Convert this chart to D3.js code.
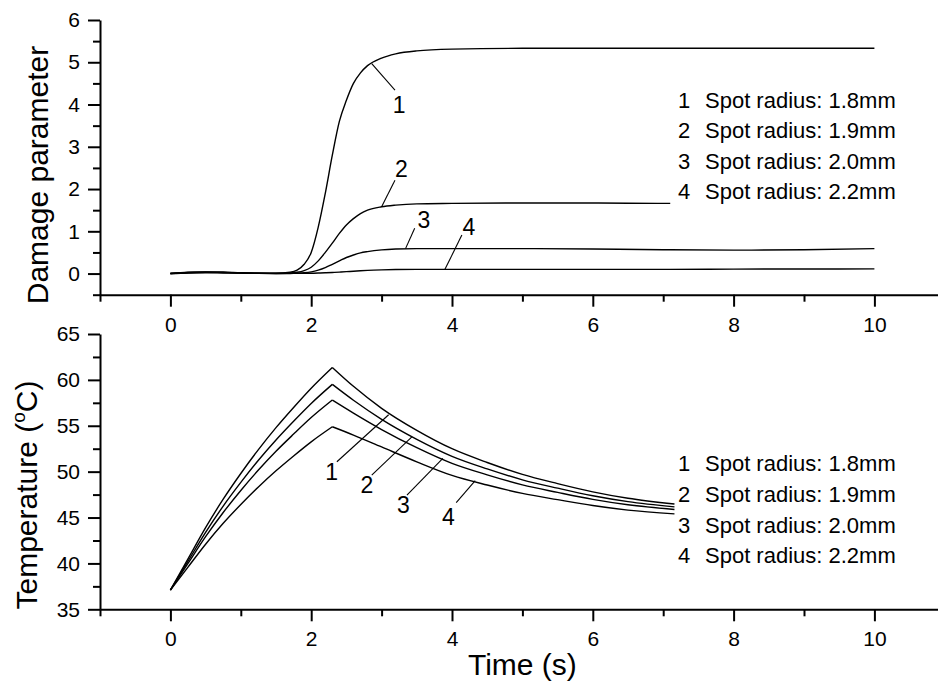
<!DOCTYPE html>
<html>
<head>
<meta charset="utf-8">
<script src="https://cdn.jsdelivr.net/npm/d3@7"></script>
<style>
  body { margin: 0; background: #fff; }
  svg { display: block; font-family: "Liberation Sans", Arial, Helvetica, sans-serif; }
</style>
</head>
<body>
<svg id="chart" width="938" height="683"></svg>
<script>
// ---- Data -------------------------------------------------------------
const seriesIds = ["1", "2", "3", "4"];
const legendLabels = [
  "Spot radius: 1.8mm",
  "Spot radius: 1.9mm",
  "Spot radius: 2.0mm",
  "Spot radius: 2.2mm"
];

// Damage parameter vs time (s)
const damageTime = [0, 0.25, 0.5, 0.75, 1, 1.25, 1.5, 1.7, 1.8, 1.9, 2, 2.1, 2.2, 2.3, 2.4, 2.5,
                    2.6, 2.7, 2.8, 3, 3.2, 3.5, 4, 5, 6, 7, 7.1, 8, 9, 10];
const damage18 = [0, 0.03, 0.04, 0.035, 0.02, 0.01, 0.008, 0.03, 0.08, 0.22, 0.5, 1.1, 1.9, 2.8, 3.6,
                  4.1, 4.5, 4.75, 4.92, 5.1, 5.2, 5.27, 5.31, 5.33, 5.33, 5.33, 5.33, 5.33, 5.33, 5.33];
const damage19 = [0, 0.025, 0.035, 0.03, 0.015, 0.008, 0.005, 0.015, 0.03, 0.07, 0.15, 0.3, 0.5, 0.72, 0.95,
                  1.15, 1.3, 1.42, 1.5, 1.58, 1.62, 1.65, 1.66, 1.67, 1.67, 1.66, 1.66, null, null, null];
const damage20 = [0, 0.02, 0.03, 0.025, 0.012, 0.006, 0.003, 0.006, 0.012, 0.02, 0.04, 0.08, 0.14, 0.22, 0.3,
                  0.38, 0.44, 0.49, 0.52, 0.56, 0.58, 0.59, 0.59, 0.59, 0.58, 0.565, 0.563, 0.555, 0.565, 0.59];
const damage22 = [0, 0.015, 0.02, 0.015, 0.01, 0.005, 0.002, 0.003, 0.004, 0.006, 0.008, 0.012, 0.018, 0.026, 0.035,
                  0.045, 0.055, 0.065, 0.075, 0.088, 0.095, 0.1, 0.1, 0.1, 0.1, 0.1, 0.1, 0.105, 0.108, 0.11];

// Temperature (°C) vs time (s)
const tempTime = [0, 0.25, 0.5, 0.75, 1, 1.25, 1.5, 1.75, 2, 2.3, 2.6, 3, 3.5, 4, 4.5, 5, 5.5, 6, 6.5, 7.16];
const temp18 = [37.1, 40.5, 43.9, 47.0, 49.8, 52.4, 54.8, 57.0, 59.1, 61.36,
                59.3, 56.9, 54.5, 52.5, 51.0, 49.7, 48.7, 47.8, 47.1, 46.47];
const temp19 = [37.1, 40.24, 43.38, 46.25, 48.83, 51.24, 53.45, 55.49, 57.43, 59.51,
                57.78, 55.7, 53.52, 51.67, 50.3, 49.11, 48.2, 47.37, 46.73, 46.16];
const temp20 = [37.1, 40.0, 42.91, 45.55, 47.95, 50.17, 52.22, 54.09, 55.89, 57.8,
                56.38, 54.59, 52.61, 50.9, 49.65, 48.56, 47.74, 46.98, 46.39, 45.88];
const temp22 = [37.1, 39.6, 42.09, 44.37, 46.42, 48.33, 50.09, 51.71, 53.25, 54.89,
                53.99, 52.69, 51.07, 49.59, 48.54, 47.63, 46.95, 46.31, 45.81, 45.4];

// Axis ticks
const xMajorTicks = [0, 2, 4, 6, 8, 10];
const xMinorTicks = [-1, 1, 3, 5, 7, 9, 11];
const damageMajorTicks = [0, 1, 2, 3, 4, 5, 6];
const damageMinorTicks = [-0.5, 0.5, 1.5, 2.5, 3.5, 4.5, 5.5];
const tempMajorTicks = [35, 40, 45, 50, 55, 60, 65];
const tempMinorTicks = [37.5, 42.5, 47.5, 52.5, 57.5, 62.5];

// Curve number call-outs, in data units: [time, value]
const damageNotes = [
  { id: "1", from: [2.86, 4.97], to: [3.19, 4.34], label: [3.25, 3.8] },
  { id: "2", from: [3.0, 1.58], to: [3.19, 2.21], label: [3.28, 2.29] },
  { id: "3", from: [3.34, 0.59], to: [3.47, 1.07], label: [3.6, 1.08] },
  { id: "4", from: [3.9, 0.1], to: [4.14, 0.91], label: [4.24, 0.91] }
];
const tempNotes = [
  { id: "1", from: [3.1, 56.2], to: [2.365, 51.08], label: [2.29, 49.1] },
  { id: "2", from: [3.43, 53.8], to: [2.86, 49.63], label: [2.79, 47.66] },
  { id: "3", from: [3.87, 51.45], to: [3.36, 47.45], label: [3.31, 45.49] },
  { id: "4", from: [4.33, 49.01], to: [4.06, 46.62], label: [3.95, 44.19] }
];

// ---- Drawing ------------------------------------------------------------
const svg = d3.select("#chart");
svg.append("rect").attr("width", 938).attr("height", 683).attr("fill", "#fff");

const x = d3.scaleLinear().domain([-1, 11]).range([100, 944.8]);
const yDamage = d3.scaleLinear().domain([-0.5, 6]).range([294.7, 20]);
const yTemp = d3.scaleLinear().domain([35, 65]).range([609.3, 334]);

const TICK_FONT = 21;

function styleAxis(g) {
  g.selectAll(".domain").attr("stroke", "#000").attr("stroke-width", 2);
  g.selectAll(".tick line").attr("stroke", "#000").attr("stroke-width", 2);
  g.selectAll(".tick text").attr("fill", "#000").attr("font-size", TICK_FONT)
    .attr("font-family", "'Liberation Sans', Arial, sans-serif");
}

function drawPanel(yScale, majorY, minorY, fmtY) {
  const yMin = yScale.domain()[0];
  // x axis (major + minor)
  const gx = svg.append("g").attr("transform", `translate(0,${yScale(yMin)})`);
  gx.call(d3.axisBottom(x).tickValues(xMajorTicks).tickSize(12).tickPadding(10)
      .tickSizeOuter(0).tickFormat(d3.format("d")));
  styleAxis(gx);
  const gxm = svg.append("g").attr("transform", `translate(0,${yScale(yMin)})`);
  gxm.call(d3.axisBottom(x).tickValues(xMinorTicks).tickSize(7).tickSizeOuter(0).tickFormat(""));
  styleAxis(gxm);
  gxm.select(".domain").remove();

  // y axis (major + minor)
  const gy = svg.append("g").attr("transform", `translate(${x(-1)},0)`);
  gy.call(d3.axisLeft(yScale).tickValues(majorY).tickSize(12).tickPadding(8)
      .tickSizeOuter(0).tickFormat(fmtY));
  styleAxis(gy);
  const gym = svg.append("g").attr("transform", `translate(${x(-1)},0)`);
  gym.call(d3.axisLeft(yScale).tickValues(minorY).tickSize(7).tickSizeOuter(0).tickFormat(""));
  styleAxis(gym);
  gym.select(".domain").remove();
}

drawPanel(yDamage, damageMajorTicks, damageMinorTicks, d3.format("d"));
drawPanel(yTemp, tempMajorTicks, tempMinorTicks, d3.format("d"));

// Damage curves
const damageSeries = [damage18, damage19, damage20, damage22];
const damageLine = d3.line()
  .defined(d => d[1] != null)
  .x(d => x(d[0])).y(d => yDamage(d[1]))
  .curve(d3.curveMonotoneX);

svg.append("g").selectAll("path")
  .data(damageSeries)
  .join("path")
  .attr("d", s => damageLine(damageTime.map((t, i) => [t, s[i]])))
  .attr("fill", "none").attr("stroke", "#000").attr("stroke-width", 1.4);

// Temperature curves: heating and cooling branches meet at a sharp peak
const tempSeries = [temp18, temp19, temp20, temp22];
const tempLine = d3.line()
  .x(d => x(d[0])).y(d => yTemp(d[1]))
  .curve(d3.curveMonotoneX);

const gTemp = svg.append("g");
tempSeries.forEach(s => {
  const pts = tempTime.map((t, i) => [t, s[i]]);
  const peak = d3.maxIndex(s);
  [pts.slice(0, peak + 1), pts.slice(peak)].forEach(branch => {
    gTemp.append("path")
      .attr("d", tempLine(branch))
      .attr("fill", "none").attr("stroke", "#000").attr("stroke-width", 1.4);
  });
});

// Call-outs naming each curve
function drawNotes(notes, yScale) {
  const g = svg.append("g");
  notes.forEach(n => {
    g.append("line")
      .attr("x1", x(n.from[0])).attr("y1", yScale(n.from[1]))
      .attr("x2", x(n.to[0])).attr("y2", yScale(n.to[1]))
      .attr("stroke", "#000").attr("stroke-width", 1.1);
    g.append("text")
      .attr("x", x(n.label[0])).attr("y", yScale(n.label[1]))
      .attr("text-anchor", "middle").attr("font-size", 23).attr("fill", "#000")
      .text(n.id);
  });
}
drawNotes(damageNotes, yDamage);
drawNotes(tempNotes, yTemp);

// Legends
function drawLegend(baselines) {
  const g = svg.append("g").attr("font-size", 22).attr("fill", "#000");
  seriesIds.forEach((id, i) => {
    g.append("text").attr("x", 678).attr("y", baselines[i]).text(id);
    g.append("text").attr("x", 705).attr("y", baselines[i]).text(legendLabels[i]);
  });
}
drawLegend([107.5, 138, 168.5, 199]);
drawLegend([471, 502, 532.5, 563]);

// Axis titles
svg.append("text")
  .attr("transform", "translate(48,175) rotate(-90)")
  .attr("text-anchor", "middle").attr("font-size", 30).attr("fill", "#000")
  .text("Damage parameter");

const tTitle = svg.append("text")
  .attr("transform", "translate(37,495) rotate(-90)")
  .attr("text-anchor", "middle").attr("font-size", 30).attr("fill", "#000");
tTitle.append("tspan").text("Temperature (");
tTitle.append("tspan").attr("font-size", 19).attr("dy", -12).text("o");
tTitle.append("tspan").attr("dy", 12).text("C)");

svg.append("text")
  .attr("x", x(5)).attr("y", 675)
  .attr("text-anchor", "middle").attr("font-size", 30).attr("fill", "#000")
  .text("Time (s)");
</script>
</body>
</html>
